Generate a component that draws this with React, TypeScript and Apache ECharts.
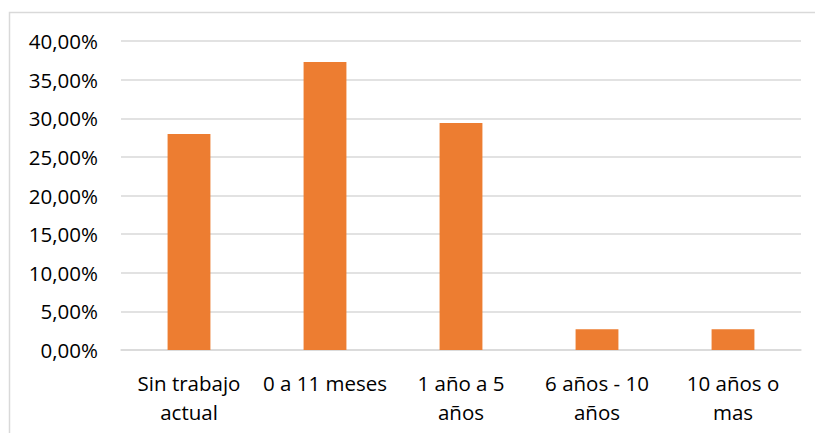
import React, { useEffect, useRef } from "react";
import * as echarts from "echarts";

const categories = ["Sin trabajo\nactual", "0 a 11 meses", "1 año a 5\naños", "6 años - 10\naños", "10 años o\nmas"];
const values = [27.96, 37.28, 29.4, 2.68, 2.68];
const yMin = 0;
const yMax = 40;
const yStep = 5;

export default function App() {
  const ref = useRef<HTMLDivElement>(null);
  useEffect(() => {
    if (!ref.current) return;
    const chart = echarts.init(ref.current, null, { renderer: "svg" });
    const font = "'Open Sans', sans-serif";
    chart.setOption({
      animation: false,
      backgroundColor: "#ffffff",
      graphic: [
        {
          type: "rect",
          shape: { x: 9.5, y: 12.5, width: 900, height: 600 },
          style: { fill: "none", stroke: "#D9D9D9", lineWidth: 1.5 },
          silent: true,
        },
      ],
      grid: { left: 121, right: 14, top: 41, bottom: 83, containLabel: false },
      xAxis: {
        type: "category",
        data: categories,
        axisLine: { show: true, lineStyle: { color: "#D9D9D9", width: 1.5 } },
        axisTick: { show: false },
        axisLabel: {
          color: "#000000",
          fontFamily: font,
          fontSize: 20.5,
          lineHeight: 29,
          margin: 18,
          interval: 0,
        },
      },
      yAxis: {
        type: "value",
        min: yMin,
        max: yMax,
        interval: yStep,
        axisLine: { show: false },
        axisTick: { show: false },
        splitLine: { lineStyle: { color: "#D9D9D9", width: 1.5 } },
        axisLabel: {
          color: "#000000",
          fontFamily: font,
          fontSize: 20.5,
          margin: 23,
          formatter: (v: number) => v.toFixed(2).replace(".", ",") + "%",
        },
      },
      series: [
        {
          type: "bar",
          data: values,
          barWidth: "31.5%",
          itemStyle: { color: "#ED7D31" },
        },
      ],
    });
    return () => chart.dispose();
  }, []);
  return <div ref={ref} style={{ position: "fixed", left: 0, top: 0, width: 815, height: 433 }} />;
}
